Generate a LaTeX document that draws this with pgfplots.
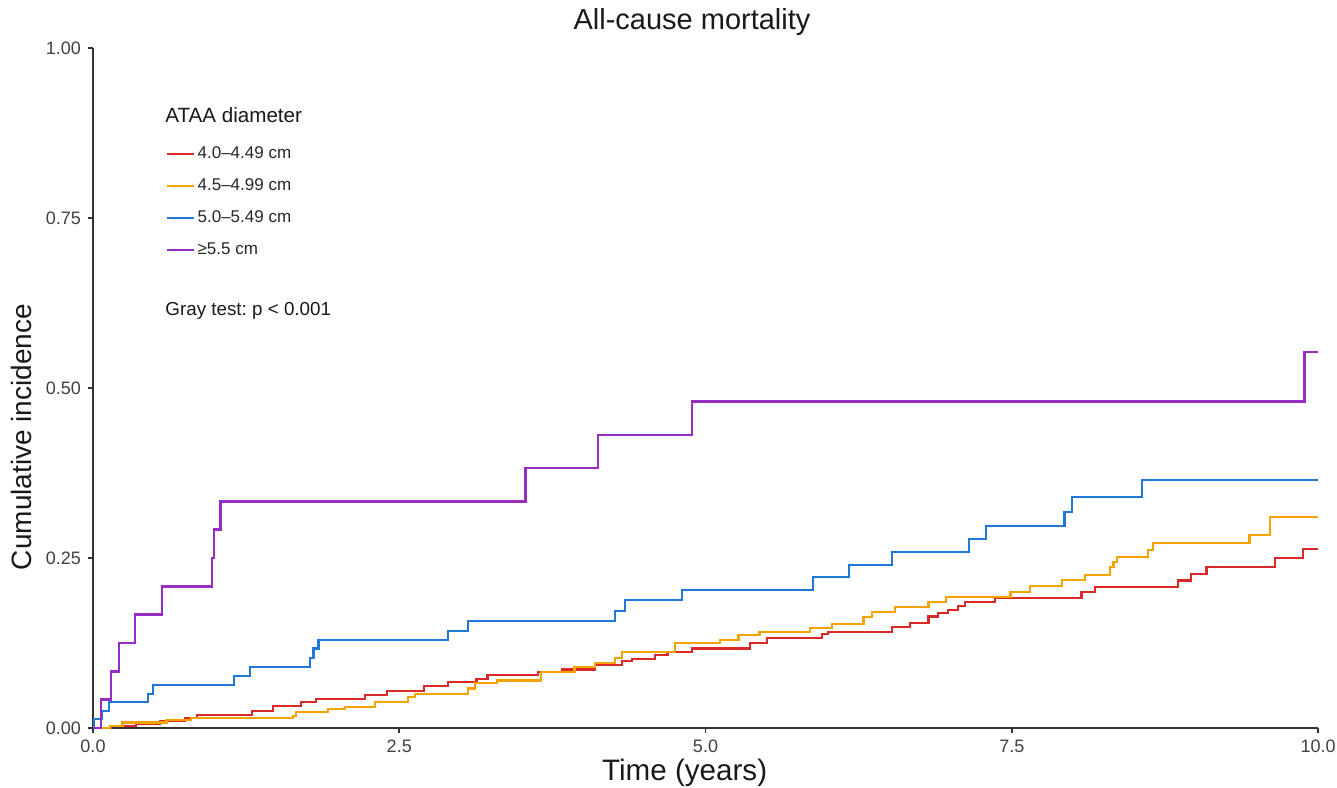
\documentclass[border=0pt]{standalone}
\usepackage{fontspec}
\setmainfont{Liberation Sans}
\usepackage{pgfplots}
\pgfplotsset{compat=1.18}
\frenchspacing

\definecolor{cRed}{RGB}{218,41,41}
\definecolor{cOrange}{RGB}{245,163,0}
\definecolor{cBlue}{RGB}{33,120,214}
\definecolor{cPurple}{RGB}{152,45,196}
\definecolor{axisgray}{RGB}{51,51,51}

\begin{document}
\begin{tikzpicture}
\begin{axis}[
  scale only axis, width=612.5pt, height=340pt,
  xmin=0, xmax=10, ymin=0, ymax=1,
  axis x line*=bottom, axis y line*=left,
  axis line style={draw=axisgray, line width=0.9pt},
  xtick={0,2.5,5,7.5,10}, xticklabels={0.0,2.5,5.0,7.5,10.0},
  ytick={0,0.25,0.5,0.75,1}, yticklabels={0.00,0.25,0.50,0.75,1.00},
  tick align=outside, major tick length=2.5pt,
  tick style={draw=axisgray, line width=0.8pt},
  ticklabel style={font=\fontsize{9}{10}\selectfont, text=black!75},
  /pgf/number format/assume math mode=true,
  xlabel={Time (years)}, ylabel={Cumulative incidence},
  label style={font=\fontsize{14}{16}\selectfont, text=black!90},
  xlabel style={at={(axis description cs:0.483,0)}, anchor=center, yshift=-22.5pt,
    font=\fontsize{14.8}{16}\selectfont},
  ylabel style={at={(axis description cs:-0.058,0.428)}, anchor=center},
  title={All-cause mortality},
  title style={at={(axis description cs:0.489,1)}, anchor=center, yshift=7pt,
    font=\fontsize{14.5}{16}\selectfont, text=black!90},
  legend cell align=left,
  legend image code/.code={\draw[#1] (0pt,0pt) -- (13.5pt,0pt);},
  legend style={at={(axis description cs:0.0588,0.8618)}, anchor=north west,
    draw=none, fill=none, inner sep=0pt, row sep=4.5pt,
    font=\fontsize{8.5}{10}\selectfont,
    nodes={inner sep=1.5pt, text height=6.5pt, text depth=2pt, text=black!85}},
  clip=false,
]
% 4.0-4.49 cm
\addplot[cRed, line width=1.1pt, const plot] coordinates {
 (0,0) (0.15,0.003) (0.35,0.006) (0.55,0.010) (0.75,0.015) (0.85,0.019)
 (1.30,0.025) (1.47,0.032) (1.70,0.038) (1.82,0.043) (2.22,0.049) (2.40,0.055)
 (2.70,0.062) (2.90,0.068) (3.13,0.072) (3.22,0.078) (3.63,0.082) (3.83,0.086)
 (4.10,0.093) (4.32,0.099) (4.40,0.102) (4.59,0.107) (4.69,0.112) (4.89,0.117)
 (5.36,0.125) (5.50,0.132) (5.95,0.138) (6.00,0.141) (6.52,0.149) (6.67,0.154)
 (6.82,0.164) (6.90,0.169) (6.98,0.174) (7.06,0.179) (7.12,0.185) (7.36,0.191)
 (8.07,0.200) (8.18,0.207) (8.86,0.217) (8.96,0.227) (9.09,0.237) (9.65,0.250)
 (9.88,0.263) (10.0,0.263)};
\addlegendentry{4.0–4.49 cm}
% 4.5-4.99 cm
\addplot[cOrange, line width=1.1pt, const plot] coordinates {
 (0,0) (0.14,0.003) (0.24,0.008) (0.60,0.012) (0.80,0.015) (1.63,0.018)
 (1.66,0.024) (1.92,0.028) (2.06,0.031) (2.30,0.038) (2.57,0.046) (2.63,0.050)
 (3.06,0.058) (3.12,0.066) (3.30,0.070) (3.66,0.082) (3.93,0.090) (4.10,0.096)
 (4.26,0.103) (4.32,0.112) (4.75,0.125) (5.12,0.130) (5.27,0.137) (5.44,0.141)
 (5.85,0.147) (6.03,0.153) (6.29,0.163) (6.36,0.171) (6.55,0.178) (6.82,0.185)
 (6.96,0.193) (7.49,0.200) (7.65,0.209) (7.91,0.218) (8.10,0.225) (8.30,0.237)
 (8.33,0.244) (8.36,0.251) (8.61,0.262) (8.65,0.272) (9.44,0.284) (9.61,0.310)
 (10.0,0.310)};
\addlegendentry{4.5–4.99 cm}
% 5.0-5.49 cm
\addplot[cBlue, line width=1.1pt, const plot] coordinates {
 (0,0) (0.005,0.013) (0.07,0.025) (0.13,0.038) (0.45,0.050) (0.49,0.063)
 (1.15,0.076) (1.28,0.090) (1.77,0.103) (1.80,0.117) (1.84,0.130) (2.90,0.143)
 (3.06,0.157) (4.26,0.172) (4.34,0.188) (4.81,0.203) (5.88,0.222) (6.17,0.240)
 (6.52,0.259) (7.15,0.278) (7.29,0.297) (7.93,0.318) (7.99,0.340) (8.56,0.365)
 (10.0,0.365)};
\addlegendentry{5.0–5.49 cm}
% >= 5.5 cm
\addplot[cPurple, line width=1.1pt, const plot] coordinates {
 (0,0) (0.065,0.042) (0.147,0.083) (0.21,0.125) (0.34,0.167) (0.56,0.208)
 (0.97,0.250) (0.99,0.292) (1.04,0.333) (3.53,0.382) (4.12,0.431) (4.89,0.480)
 (9.89,0.553) (10.0,0.553)};
\addlegendentry{≥5.5 cm}

\node[anchor=west, inner sep=0pt, font=\fontsize{10.3}{12}\selectfont, text=black!90]
  at (axis description cs:0.0588,0.901) {ATAA diameter};
\node[anchor=west, inner sep=0pt, font=\fontsize{9.4}{11}\selectfont, text=black!90]
  at (axis description cs:0.0588,0.613) {Gray test: p < 0.001};
\end{axis}
\pgfresetboundingbox
\useasboundingbox (-46.5pt,-29.5pt) rectangle (622pt,364pt);
\end{tikzpicture}
\end{document}
